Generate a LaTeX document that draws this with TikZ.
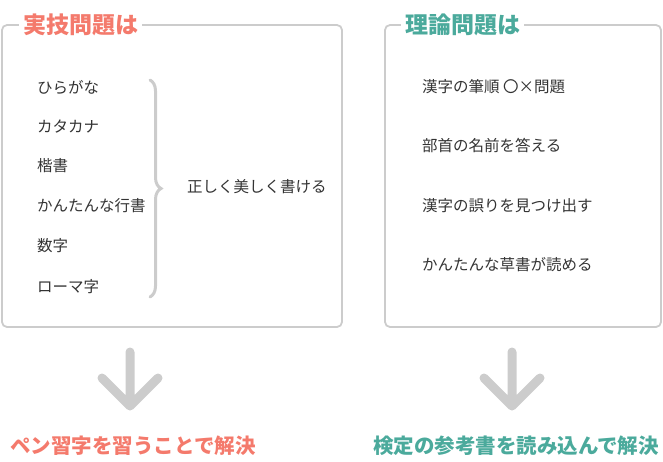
\documentclass[tikz,border=0pt]{standalone}
\usepackage{fontspec}
\setmainfont{Noto Sans CJK JP}
\usetikzlibrary{decorations.pathreplacing}
\definecolor{salmon}{HTML}{F47A6C}
\definecolor{teal}{HTML}{4BAA9C}
\definecolor{frame}{HTML}{CCCCCC}

\begin{document}
\begin{tikzpicture}[x=1pt,y=-1pt]
\tikzstyle{every node}+=[inner sep=1pt]
\tikzstyle{box}=[draw=frame,line width=1.8pt,rounded corners=5pt]
\tikzstyle{item}=[anchor=west,font=\fontsize{15.5}{15.5}\selectfont,text=black!80]
\tikzstyle{title}=[fill=white,inner xsep=4pt,font=\fontsize{23}{23}\selectfont\bfseries]
\tikzstyle{result}=[font=\fontsize{20.5}{20.5}\selectfont\bfseries]
\tikzstyle{down}=[draw=frame,line width=9pt,line cap=round,line join=round]
\useasboundingbox (0,0) rectangle (663,461);
% boxes
\draw [box] (2,25) rectangle (342,327);
\draw [box] (385,25) rectangle (661,327);
\node [title,text=salmon,anchor=west] (tl) at (19,25) {実技問題は};
\node [title,text=teal,anchor=west] (tr) at (401,25) {理論問題は};
% left items
\node [item] (l1) at (36,87) {ひらがな};
\node [item] (l2) at (36,127) {カタカナ};
\node [item] (l3) at (36,166) {楷書};
\node [item] (l4) at (36,206) {かんたんな行書};
\node [item] (l5) at (36,246) {数字};
\node [item] (l6) at (36,287) {ローマ字};
\draw [frame,line width=3pt,line cap=round,decorate,decoration={brace,amplitude=11pt,aspect=0.5}]
  (150,80) -- (150,297);
\node [item] (goal) at (186,187) {正しく美しく書ける};
% right items
\node [item] (r1) at (421,87) {漢字の筆順 〇×問題};
\node [item] (r2) at (421,146) {部首の名前を答える};
\node [item] (r3) at (421,206) {漢字の誤りを見つけ出す};
\node [item] (r4) at (421,265) {かんたんな草書が読める};
% arrows
\coordinate (a1) at (130,352);
\coordinate (b1) at (130,406);
\draw [down] (a1) -- (b1) (102,378) -- (b1) -- (158,378);
\coordinate (a2) at (512,352);
\coordinate (b2) at (512,406);
\draw [down] (a2) -- (b2) (484,378) -- (b2) -- (540,378);
\node [result,text=salmon] (resl) at (133,446) {ペン習字を習うことで解決};
\node [result,text=teal] (resr) at (516,446) {検定の参考書を読み込んで解決};
\end{tikzpicture}
\end{document}
